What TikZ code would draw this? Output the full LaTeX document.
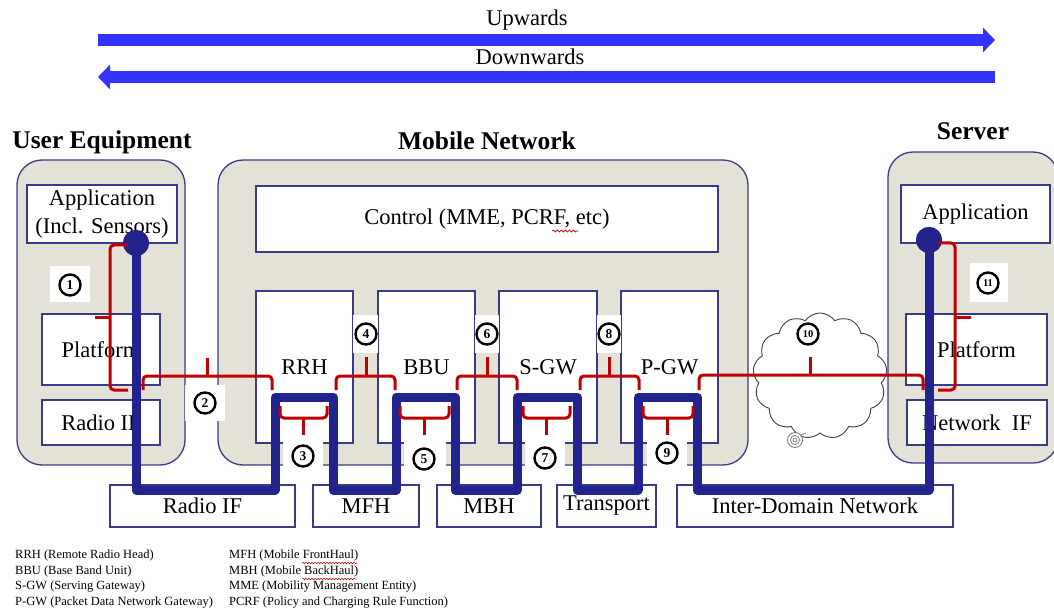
\documentclass[tikz,border=0pt]{standalone}
\usepackage{fontspec}
\setmainfont{Liberation Serif}
\usetikzlibrary{shapes.symbols,arrows.meta,decorations.pathmorphing}
\definecolor{beige}{HTML}{E4E2D6}
\definecolor{navy}{HTML}{3A3A86}
\definecolor{arrowblue}{HTML}{3333FF}
\definecolor{pathblue}{HTML}{23238E}
\definecolor{bred}{HTML}{C00000}
\begin{document}
\begin{tikzpicture}[x=1pt,y=-1pt,
  group/.style={draw=navy, line width=1.3pt, fill=beige, rounded corners=25pt, inner sep=0pt},
  box/.style={draw=navy, line width=1.1pt, fill=white, inner sep=0pt, align=center, font=\fontsize{22.5}{28}\selectfont},
  ttl/.style={font=\fontsize{25.5}{28}\selectfont\bfseries, inner sep=0pt},
  lbl/.style={font=\fontsize{22.5}{28}\selectfont, inner sep=0pt},
  num/.style={circle, draw=black, line width=2.4pt, minimum size=21pt, inner sep=0pt, font=\fontsize{13.5}{13.5}\selectfont\bfseries},
  numsm/.style={num, font=\fontsize{10.5}{10.5}\selectfont\bfseries},
  numbg/.style={fill=white, inner sep=0pt},
  bline/.style={draw=pathblue, line width=9pt, line join=round},
  rbr/.style={draw=bred, line width=3pt, rounded corners=4pt},
  dot/.style={circle, fill=pathblue, minimum size=26pt, inner sep=0pt},
  legend/.style={font=\fontsize{12.5}{14}\selectfont, anchor=west, inner sep=0pt},
  bigarrow/.style={draw=arrowblue, line width=12pt, -{Triangle[length=12pt,width=24pt]}},
  wavy/.style={draw=bred, line width=0.7pt, decorate, decoration={snake, amplitude=1pt, segment length=4pt}},
]
\useasboundingbox (0,0) rectangle (1054,612);

% top arrows
\coordinate (upL) at (98,40);
\coordinate (upR) at (995,40);
\coordinate (dnR) at (995,77);
\coordinate (dnL) at (98,77);
\draw[bigarrow] (upL) -- (upR);
\draw[bigarrow] (dnR) -- (dnL);
\node[lbl] (upt) at (527,20) {Upwards};
\node[lbl] (dnt) at (530,57) {Downwards};

% titles
\node[ttl] (uet) at (102,142) {User Equipment};
\node[ttl] (mnt) at (487,141) {Mobile Network};
\node[ttl] (svt) at (973,131) {Server};

% group boxes
\node[group, minimum width=168pt, minimum height=305pt] (ue) at (101,312.5) {};
\node[group, minimum width=530pt, minimum height=305pt] (mn) at (483,312.5) {};
\node[group, minimum width=170pt, minimum height=311pt] (sv) at (973,307.5) {};

% UE boxes
\node[box, minimum width=150pt, minimum height=58pt] (ueapp) at (102,214) {Application\\(Incl. Sensors)};
\node[box, minimum width=118pt, minimum height=71pt] (uepf) at (101,349.5) {Platform};
\node[box, minimum width=118pt, minimum height=45pt] (ueri) at (101,422.5) {Radio IF};

% Mobile network boxes
\node[box, minimum width=462pt, minimum height=66pt] (ctrl) at (487,219) {Control (MME, PCRF, etc)};
\node[box, minimum width=97pt, minimum height=152pt] (rrh) at (304.5,367) {RRH};
\node[box, minimum width=97pt, minimum height=152pt] (bbu) at (426.5,367) {BBU};
\node[box, minimum width=98pt, minimum height=152pt] (sgw) at (548,367) {S-GW};
\node[box, minimum width=97pt, minimum height=152pt] (pgw) at (669.5,367) {P-GW};
\draw[wavy] (552,231) -- (578,231);

% server boxes
\node[box, minimum width=149pt, minimum height=58pt] (svapp) at (975.5,214) {Application};
\node[box, minimum width=141pt, minimum height=71pt] (svpf) at (976.5,349.5) {Platform};
\node[box, minimum width=140pt, minimum height=45pt] (svni) at (977,422.5) {Network\ \ IF};

% bottom boxes
\node[box, minimum width=185pt, minimum height=42pt] (rif) at (202.5,506) {Radio IF};
\node[box, minimum width=106pt, minimum height=42pt] (mfh) at (366,506) {MFH};
\node[box, minimum width=104pt, minimum height=42pt] (mbh) at (489,506) {MBH};
\node[box, minimum width=99pt, minimum height=42pt] (trn) at (606.5,506) {Transport};
\node[box, minimum width=276pt, minimum height=42pt] (idn) at (815,506) {Inter-Domain Network};

% cloud
\node[cloud, cloud puffs=13, cloud puff arc=110, aspect=1.05, draw=black!75, line width=0.9pt, fill=white, minimum width=134pt, minimum height=126pt] (cloud) at (820,376) {};
\draw[black!55, line width=0.8pt, fill=white] (795,440) circle (7.5);
\draw[black!55, line width=0.7pt] (795,440) circle (4.5);
\draw[black!55, line width=0.7pt] (795,440) circle (2);
\draw[black!55, line width=0.7pt] (801,435) -- (806,433);

% number backgrounds
\node[numbg, minimum width=40pt, minimum height=36pt] (bg1) at (70,284) {};
\node[numbg, minimum width=40pt, minimum height=36pt] (bg2) at (205,403) {};
\node[numbg, minimum width=40pt, minimum height=29pt] (bg3) at (303,455) {};
\node[numbg, minimum width=25pt, minimum height=38pt] (bg4) at (365.5,334) {};
\node[numbg, minimum width=42pt, minimum height=29pt] (bg5) at (425,455) {};
\node[numbg, minimum width=24pt, minimum height=38pt] (bg6) at (487,334) {};
\node[numbg, minimum width=40pt, minimum height=29pt] (bg7) at (545,455) {};
\node[numbg, minimum width=24pt, minimum height=38pt] (bg8) at (609,334) {};
\node[numbg, minimum width=40pt, minimum height=29pt] (bg9) at (667,455) {};
\node[numbg, minimum width=38pt, minimum height=39pt] (bg11) at (989,282.5) {};

% numbers
\node[num] (n1) at (70,285) {1};
\node[num] (n2) at (205,403) {2};
\node[num] (n3) at (303,456) {3};
\node[num] (n4) at (366,334) {4};
\node[num] (n5) at (424,459) {5};
\node[num] (n6) at (487,334) {6};
\node[num] (n7) at (545,458) {7};
\node[num] (n8) at (609,334) {8};
\node[num] (n9) at (667,453) {9};
\node[numsm] (n10) at (808,334) {10};
\node[numsm] (n11) at (988,283) {11};

% dots
\node[dot] (ueDot) at (136,243) {};
\node[dot] (svDot) at (929,240) {};

% blue data path
\draw[bline] (ueDot.center) -- (136,490) -- (275,490) -- (275,397) -- (333,397) -- (333,490)
  -- (396,490) -- (396,397) -- (455,397) -- (455,490) -- (517,490) -- (517,397) -- (577,397)
  -- (577,490) -- (638,490) -- (638,397) -- (697,397) -- (697,490) -| (svDot.center);
\node[dot] at (ueDot) {};
\node[dot] at (svDot) {};

% red brackets
\draw[rbr] (128,245) -- (110,245) -- (110,390) -- (128,390);
\draw[rbr] (110,317) -- (95,317);
\draw[rbr] (143,390) -- (143,376) -- (272,376) -- (272,390);
\draw[rbr] (207,376) -- (207,358);
\draw[rbr] (336,390) -- (336,376) -- (395,376) -- (395,390);
\draw[rbr] (366,376) -- (366,357);
\draw[rbr] (457,390) -- (457,376) -- (517,376) -- (517,390);
\draw[rbr] (487,376) -- (487,357);
\draw[rbr] (580,390) -- (580,376) -- (639,376) -- (639,390);
\draw[rbr] (609,376) -- (609,357);
\draw[rbr] (699,390) -- (699,375) -- (923,375) -- (923,390);
\draw[rbr] (810,375) -- (810,357);
\draw[rbr] (280,406) -- (280,418) -- (327,418) -- (327,406);
\draw[rbr] (303,418) -- (303,435);
\draw[rbr] (400,406) -- (400,418) -- (449,418) -- (449,406);
\draw[rbr] (424,418) -- (424,435);
\draw[rbr] (523,406) -- (523,418) -- (570,418) -- (570,406);
\draw[rbr] (546,418) -- (546,435);
\draw[rbr] (643,406) -- (643,418) -- (693,418) -- (693,406);
\draw[rbr] (667,418) -- (667,435);
\draw[rbr] (938,243) -- (955,243) -- (955,390) -- (938,390);
\draw[rbr] (955,317) -- (971,317);

% legend
\node[legend] (l1) at (15,555) {RRH (Remote Radio Head)};
\node[legend] (l2) at (15,571) {BBU (Base Band Unit)};
\node[legend] (l3) at (15,587) {S-GW (Serving Gateway)};
\node[legend] (l4) at (15,603) {P-GW (Packet Data Network Gateway)};
\node[legend] (l5) at (229,555) {MFH (Mobile FrontHaul)};
\node[legend] (l6) at (229,571) {MBH (Mobile BackHaul)};
\node[legend] (l7) at (229,587) {MME (Mobility Management Entity)};
\node[legend] (l8) at (229,603) {PCRF (Policy and Charging Rule Function)};
\draw[wavy, line width=0.5pt, decoration={snake, amplitude=0.8pt, segment length=3pt}] (302,563) -- (357,563);
\draw[wavy, line width=0.5pt, decoration={snake, amplitude=0.8pt, segment length=3pt}] (302,579) -- (356,579);
\end{tikzpicture}
\end{document}
